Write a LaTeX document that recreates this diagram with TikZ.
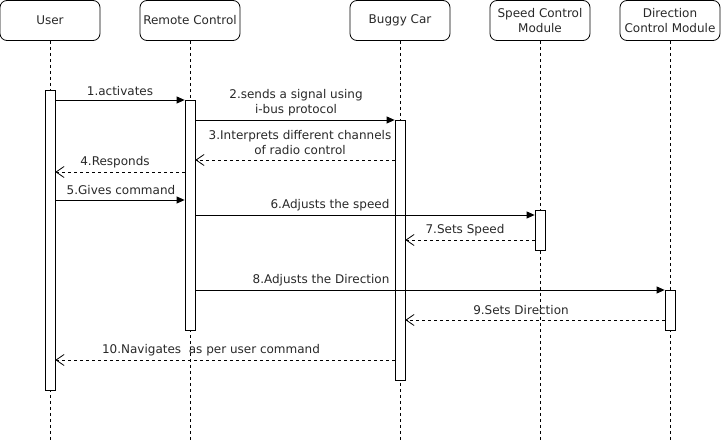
\documentclass[tikz,border=0pt]{standalone}
\usepackage{fontspec}
\setmainfont{DejaVu Sans}
\usetikzlibrary{arrows.meta}
\definecolor{txt}{RGB}{40,40,40}
\begin{document}
\begin{tikzpicture}[x=1pt,y=-1pt,
  head/.style={draw, rounded corners=7pt, minimum width=100pt, minimum height=40pt, align=center, line width=0.8pt, inner sep=1pt, text=txt, font=\fontsize{12}{14.5}\selectfont},
  life/.style={dash pattern=on 3pt off 3pt, line width=0.8pt},
  bar/.style={draw, fill=white, minimum width=10pt, inner sep=0pt, line width=0.8pt},
  msg/.style={line width=0.8pt, -{Triangle[length=8pt,width=7pt]}},
  ret/.style={line width=0.8pt, dash pattern=on 3pt off 3pt, -{Straight Barb[length=8pt,width=11pt]}},
  lbl/.style={font=\fontsize{12}{14.5}\selectfont, align=center, inner sep=0pt, text=txt}]
\useasboundingbox (0,0) rectangle (721,441);
% headers
\node[head] (user) at (50,20.5) {User};
\node[head] (rc) at (190,20.5) {Remote Control};
\node[head] (car) at (400,20.5) {Buggy Car};
\node[head] (spd) at (540,20.5) {Speed Control\\Module};
\node[head] (dir) at (670,20.5) {Direction\\Control Module};
\coordinate (bot) at (0,441);
% lifelines
\foreach \n in {user,rc,car,spd,dir} \draw[life] (\n.south) -- (\n.south |- bot);
% activation bars
\node[bar, minimum height=300pt] (ub) at (50,240) {};
\node[bar, minimum height=230pt] (rb) at (190,215) {};
\node[bar, minimum height=260pt] (cb) at (400,250) {};
\node[bar, minimum height=40pt] (sb) at (540,230) {};
\node[bar, minimum height=40pt] (db) at (670,310) {};
% message rows
\coordinate (m1) at (0,100);
\coordinate (m2) at (0,120);
\coordinate (m3) at (0,160);
\coordinate (m4) at (0,172);
\coordinate (m5) at (0,200);
\coordinate (m6) at (0,215);
\coordinate (m7) at (0,240);
\coordinate (m8) at (0,290);
\coordinate (m9) at (0,320);
\coordinate (m10) at (0,360);
% messages
\draw[msg] (ub.east |- m1) -- (rb.west |- m1);
\draw[msg] (rb.east |- m2) -- (cb.west |- m2);
\draw[ret] (cb.west |- m3) -- (rb.east |- m3);
\draw[ret] (rb.west |- m4) -- (ub.east |- m4);
\draw[msg] (ub.east |- m5) -- (rb.west |- m5);
\draw[msg] (rb.east |- m6) -- (sb.west |- m6);
\draw[ret] (sb.west |- m7) -- (cb.east |- m7);
\draw[msg] (rb.east |- m8) -- (db.west |- m8);
\draw[ret] (db.west |- m9) -- (cb.east |- m9);
\draw[ret] (cb.west |- m10) -- (ub.east |- m10);
% labels
\node[lbl] (l1) at (120,91) {1.activates};
\node[lbl] (l2) at (296,102.5) {2.sends a signal using\\i-bus protocol};
\node[lbl] (l3) at (300,142.5) {3.Interprets different channels\\of radio control};
\node[lbl] (l4) at (115,162) {4.Responds};
\node[lbl] (l5) at (121,190) {5.Gives command};
\node[lbl] (l6) at (330,205) {6.Adjusts the speed};
\node[lbl] (l7) at (465,230) {7.Sets Speed};
\node[lbl] (l8) at (321,280) {8.Adjusts the Direction};
\node[lbl] (l9) at (521,310) {9.Sets Direction};
\node[lbl] (l10) at (211,350) {10.Navigates\ \ as per user command};
\end{tikzpicture}
\end{document}
